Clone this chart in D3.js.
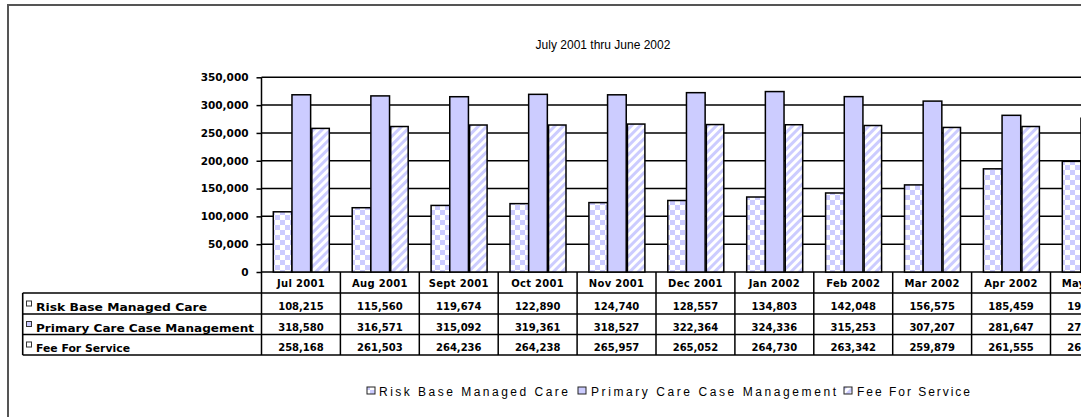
<!DOCTYPE html>
<html>
<head>
<meta charset="utf-8">
<script src="https://cdn.jsdelivr.net/npm/d3@7"></script>
<style>
  body { margin: 0; background: #fff; }
  svg { display: block; }
</style>
</head>
<body>
<svg id="chart" width="1081" height="417"></svg>
<script>
const title = "July 2001 thru June 2002";
const categories = ["Jul 2001","Aug 2001","Sept 2001","Oct 2001","Nov 2001","Dec 2001","Jan 2002","Feb 2002","Mar 2002","Apr 2002","May 2002"];
const seriesNames = ["Risk Base Managed Care","Primary Care Case Management","Fee For Service"];
const riskBase = [108215,115560,119674,122890,124740,128557,134803,142048,156575,185459,198870];
const primaryCare = [318580,316571,315092,319361,318527,322364,324336,315253,307207,281647,276420];
const feeForService = [258168,261503,264236,264238,265957,265052,264730,263342,259879,261555,262310];
const yTicks = [0,50000,100000,150000,200000,250000,300000,350000];

const seriesValues = [riskBase, primaryCare, feeForService];
const fills = ["url(#checker)", "#ccccff", "url(#stripes)"];

const svg = d3.select("#chart");
const defs = svg.append("defs");
const lav = "#ccccff";

const chk = defs.append("pattern").attr("id","checker").attr("patternUnits","userSpaceOnUse")
  .attr("width",10).attr("height",10);
chk.append("rect").attr("width",10).attr("height",10).attr("fill","#fff");
chk.append("rect").attr("width",5).attr("height",5).attr("fill",lav);
chk.append("rect").attr("x",5).attr("y",5).attr("width",5).attr("height",5).attr("fill",lav);

const str = defs.append("pattern").attr("id","stripes").attr("patternUnits","userSpaceOnUse")
  .attr("width",6).attr("height",6).attr("patternTransform","rotate(45)");
str.append("rect").attr("width",6).attr("height",6).attr("fill","#fff");
str.append("rect").attr("width",3).attr("height",6).attr("fill",lav);

// Outer border (extends past the window)
svg.append("rect").attr("x",8).attr("y",5).attr("width",1200).attr("height",500)
  .attr("fill","none").attr("stroke","#555").attr("stroke-width",2);

// Title
svg.append("text").attr("x",603).attr("y",49).attr("text-anchor","middle")
  .attr("font-family","Liberation Sans, Arial, sans-serif").attr("font-size",12)
  .attr("fill","#000").text(title);

const colW = 78.9;
const left = 261.5;
const x = d3.scaleBand().domain(categories).range([left, left + colW*categories.length]);
const xs = d3.scaleBand().domain(seriesNames).range([11.8, 67.8]);
const y = d3.scaleLinear().domain([0,350000]).range([272, 77.3]);

// Gridlines and ticks
const yAxis = d3.axisLeft(y).tickValues(yTicks).tickFormat(d3.format(",")).tickSize(5).tickPadding(8);
const gAxis = svg.append("g").attr("transform",`translate(${left},0)`).call(yAxis);
gAxis.select(".domain").remove();
gAxis.selectAll(".tick line").attr("stroke","#000").attr("stroke-width",1.5);
gAxis.selectAll(".tick text").attr("font-family","DejaVu Sans, Verdana, sans-serif")
  .attr("font-weight","bold").attr("font-size",10.5).attr("fill","#000");

svg.append("g").selectAll("line").data(yTicks).join("line")
  .attr("x1",left).attr("x2",1200).attr("y1",d=>y(d)).attr("y2",d=>y(d))
  .attr("stroke","#000").attr("stroke-width",1.5);

// Bars
seriesNames.forEach((s,i)=>{
  svg.append("g").selectAll("rect").data(seriesValues[i]).join("rect")
    .attr("x",(d,j)=>x(categories[j]) + xs(s) + (i===2?1.2:0))
    .attr("y",d=>y(d))
    .attr("width",xs.bandwidth() - (i===2?1.2:0))
    .attr("height",d=>y(0)-y(d))
    .attr("fill",fills[i]).attr("stroke","#000").attr("stroke-width",1.5);
});

// Y axis line
svg.append("line").attr("x1",left).attr("x2",left).attr("y1",y(350000)).attr("y2",355)
  .attr("stroke","#000").attr("stroke-width",1.5);

// Data table
const rowTops = [293, 314, 334.5, 355];
const tableLeft = 22.7;
const tbl = svg.append("g");
rowTops.forEach(t=>{
  tbl.append("line").attr("x1",tableLeft).attr("x2",1200).attr("y1",t).attr("y2",t)
    .attr("stroke","#000").attr("stroke-width",1.6);
});
tbl.append("line").attr("x1",tableLeft).attr("x2",tableLeft).attr("y1",293).attr("y2",355)
  .attr("stroke","#000").attr("stroke-width",1.6);
tbl.selectAll("line.col").data(categories).join("line").attr("class","col")
  .attr("x1",d=>x(d)+x.bandwidth()).attr("x2",d=>x(d)+x.bandwidth())
  .attr("y1",272).attr("y2",355).attr("stroke","#000").attr("stroke-width",1.5);

const cellFont = "DejaVu Sans, Verdana, sans-serif";
tbl.selectAll("text.hdr").data(categories).join("text").attr("class","hdr")
  .attr("x",d=>x(d)+x.bandwidth()/2).attr("y",287)
  .attr("text-anchor","middle").attr("font-family",cellFont).attr("font-weight","bold")
  .attr("font-size",10).attr("letter-spacing",0.3).text(d=>d);

seriesNames.forEach((s,i)=>{
  const base = rowTops[i+1] - 3;
  tbl.append("rect").attr("x",26.5).attr("y",base-10).attr("width",5).attr("height",5)
    .attr("fill", i===1 ? lav : "#fff").attr("stroke","#333").attr("stroke-width",1);
  tbl.append("text").attr("x",36).attr("y",base).attr("font-family",cellFont)
    .attr("font-weight","bold").attr("font-size",11)
    .attr("textLength", [171,218,94][i]).attr("lengthAdjust","spacingAndGlyphs").text(s);
  tbl.append("g").selectAll("text").data(seriesValues[i]).join("text")
    .attr("x",(d,j)=>x(categories[j]) + x.bandwidth()/2).attr("y",base-1)
    .attr("text-anchor","middle").attr("font-family",cellFont).attr("font-weight","bold")
    .attr("font-size",10).text(d=>d3.format(",")(d));
});

// Legend
const legendItems = [
  {name: seriesNames[0], kx: 367, tx: 379, w: 189, fill: "url(#checker)"},
  {name: seriesNames[1], kx: 578, tx: 591, w: 245, fill: lav},
  {name: seriesNames[2], kx: 844, tx: 857, w: 113, fill: "url(#stripes)"}
];
const lg = svg.append("g");
lg.selectAll("rect").data(legendItems).join("rect")
  .attr("x",d=>d.kx).attr("y",387).attr("width",8).attr("height",7)
  .attr("fill",d=>d.fill).attr("stroke","#222").attr("stroke-width",1);
lg.selectAll("text").data(legendItems).join("text")
  .attr("x",d=>d.tx).attr("y",395.5).attr("font-family","Liberation Sans, Arial, sans-serif")
  .attr("font-size",12).attr("textLength",d=>d.w).attr("lengthAdjust","spacing").text(d=>d.name);
</script>
</body>
</html>
